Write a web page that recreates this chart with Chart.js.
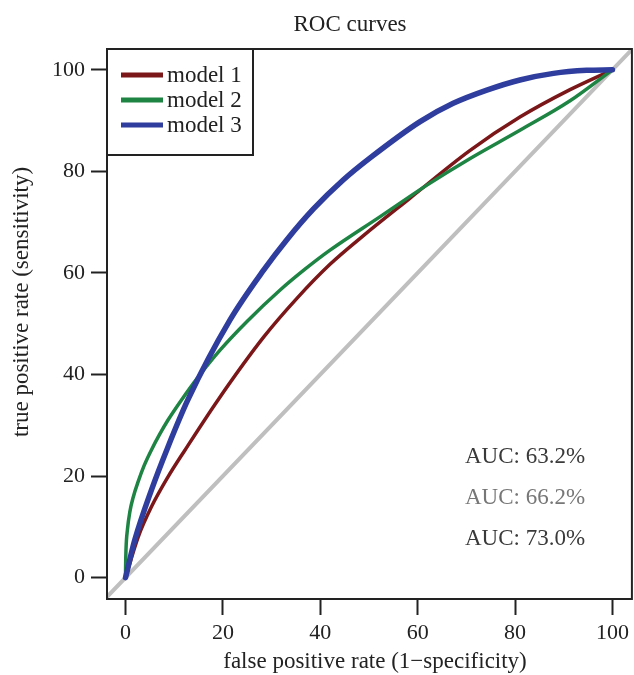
<!DOCTYPE html>
<html>
<head>
<meta charset="utf-8">
<script src="https://cdn.jsdelivr.net/npm/chart.js@4.4.1/dist/chart.umd.min.js"></script>
<style>
  body { margin: 0; background: #fff; }
  #wrap { width: 634px; height: 675px; }
</style>
</head>
<body>
<div id="wrap"><canvas id="roc" width="634" height="675"></canvas></div>
<script>
// axis ticks
const xTicks = [0, 20, 40, 60, 80, 100];
const yTicks = [0, 20, 40, 60, 80, 100];

// (false positive rate / true positive rate, in %)
const model1Fpr = [0, 2.6, 5.3, 8.7, 12.2, 19, 28.4, 35.2, 42, 48.8, 58.4, 70.7, 81, 91.3, 100];
const model1Tpr = [0, 8, 13.9, 19.8, 25.1, 35, 47.4, 55, 61.7, 67.3, 74.7, 84.1, 90.7, 96.1, 100];

const model2Fpr = [0, 0.02, 0.1, 0.4, 0.9, 1.6, 2.6, 3.8, 5.3, 7, 8.7, 11.5, 15, 19.5, 25, 31.7, 36.8, 42, 52.3, 61.9, 70.7, 81, 91.3, 100];
const model2Tpr = [0, 2, 5.5, 9.5, 13, 15.9, 18.9, 22, 25.1, 28.2, 31, 35, 39.6, 44.9, 50.5, 56.6, 60.7, 64.5, 71.1, 77.3, 82.5, 88.1, 93.9, 100];

const model3Fpr = [0, 1.9, 5.3, 8.7, 12.8, 21.5, 28.4, 33.1, 38.6, 44.7, 50.3, 60.5, 67.3, 74.2, 81, 87.9, 94.7, 100];
const model3Tpr = [0, 7.4, 17.2, 25.7, 35, 50.8, 60.6, 66.5, 72.6, 78.3, 82.7, 89.8, 93.4, 96, 98, 99.3, 99.9, 100];

const chanceLine = [-10, 110];

const seriesNames = ['model 1', 'model 2', 'model 3'];
const seriesColors = ['#7b1719', '#1d8443', '#2e3d9e'];
const aucLabels = ['AUC: 63.2%', 'AUC: 66.2%', 'AUC: 73.0%'];
const aucColors = ['#3a3a3a', '#777777', '#3a3a3a'];

const serif = '"Liberation Serif", "DejaVu Serif", serif';
const ink = '#222';

function toPoints(xs, ys) {
    return xs.map((x, i) => ({ x: x, y: ys[i] }));
}

// box round the plot, title, axis titles, legend and AUC notes
const decorations = {
    id: 'decorations',
    afterDatasetsDraw(chart) {
        const ctx = chart.ctx;
        const area = chart.chartArea;
        ctx.save();

        ctx.strokeStyle = ink;
        ctx.lineWidth = 2;
        ctx.strokeRect(area.left, area.top, area.right - area.left, area.bottom - area.top);

        // legend
        const lx = area.left, ly = area.top, lw = 146, lh = 106;
        ctx.fillStyle = '#fff';
        ctx.fillRect(lx, ly, lw, lh);
        ctx.strokeRect(lx, ly, lw, lh);
        ctx.font = '23px ' + serif;
        ctx.textBaseline = 'middle';
        ctx.textAlign = 'left';
        chart.data.datasets.slice(0, 3).forEach((ds, i) => {
            const y = ly + 26 + i * 25;
            ctx.strokeStyle = ds.borderColor;
            ctx.lineWidth = 5;
            ctx.beginPath();
            ctx.moveTo(lx + 14, y);
            ctx.lineTo(lx + 56, y);
            ctx.stroke();
            ctx.fillStyle = ink;
            ctx.fillText(ds.label, lx + 60, y + 1);
        });

        // AUC notes
        ctx.textBaseline = 'alphabetic';
        aucLabels.forEach((t, i) => {
            ctx.fillStyle = aucColors[i];
            ctx.fillText(t, 465, 463 + i * 41);
        });

        // title and axis titles
        ctx.fillStyle = ink;
        ctx.textAlign = 'center';
        ctx.textBaseline = 'middle';
        ctx.fillText('ROC curves', 350, 25);
        ctx.fillText('false positive rate (1\u2212specificity)', 375, 662);
        ctx.translate(22, 302);
        ctx.rotate(-Math.PI / 2);
        ctx.fillText('true positive rate (sensitivity)', 0, 0);
        ctx.restore();
    }
};

const axisStyle = {
    grid: { display: true, drawOnChartArea: false, drawTicks: true, tickLength: 16, tickWidth: 2, tickColor: ink },
    border: { display: true, color: ink, width: 2 },
    ticks: { color: ink, font: { family: serif, size: 22 } }
};

new Chart(document.getElementById('roc'), {
    type: 'scatter',
    data: {
        datasets: [
            { label: seriesNames[0], data: toPoints(model1Fpr, model1Tpr), borderColor: seriesColors[0], borderWidth: 3.5, order: 3 },
            { label: seriesNames[1], data: toPoints(model2Fpr, model2Tpr), borderColor: seriesColors[1], borderWidth: 3.5, order: 2 },
            { label: seriesNames[2], data: toPoints(model3Fpr, model3Tpr), borderColor: seriesColors[2], borderWidth: 5.5, order: 1 },
            { label: 'chance', data: toPoints(chanceLine, chanceLine), borderColor: '#bfbfbf', borderWidth: 4, order: 4, clip: 0, cubicInterpolationMode: 'default' }
        ]
    },
    options: {
        responsive: false,
        animation: false,
        showLine: true,
        elements: {
            point: { radius: 0, hoverRadius: 0 },
            line: { cubicInterpolationMode: 'monotone', fill: false, borderCapStyle: 'round' }
        },
        layout: { padding: { top: 49, right: 2, left: 0, bottom: 0 } },
        plugins: {
            legend: { display: false },
            title: { display: false },
            tooltip: { enabled: false }
        },
        scales: {
            x: {
                type: 'linear', min: -3.8, max: 104,
                afterBuildTicks: (scale) => { scale.ticks = xTicks.map(v => ({ value: v })); },
                afterFit: (scale) => { scale.height = 76; },
                grid: axisStyle.grid, border: axisStyle.border,
                ticks: Object.assign({ padding: 5, maxRotation: 0 }, axisStyle.ticks)
            },
            y: {
                type: 'linear', min: -4.2, max: 104.1,
                afterBuildTicks: (scale) => { scale.ticks = yTicks.map(v => ({ value: v })); },
                afterFit: (scale) => { scale.width = 107; },
                grid: axisStyle.grid, border: axisStyle.border,
                ticks: Object.assign({ padding: 6 }, axisStyle.ticks)
            }
        }
    },
    plugins: [decorations]
});
</script>
</body>
</html>
